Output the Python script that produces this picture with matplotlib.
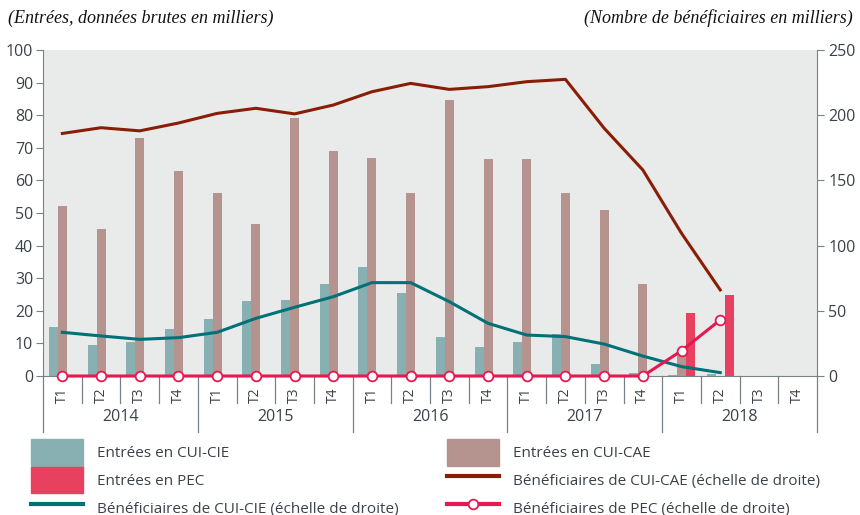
import matplotlib
matplotlib.use("Agg")
import matplotlib.pyplot as plt
import matplotlib.transforms as mtransforms
from matplotlib.patches import Patch
from matplotlib.lines import Line2D
import numpy as np

nan = np.nan
years = ["2014", "2015", "2016", "2017", "2018"]
quarters = ["T1", "T2", "T3", "T4"]

# entries (left axis, thousands)
entrees_cie = [15, 9.5, 10.5, 14.5, 17.5, 23, 23.3, 28.3,
               33.5, 25.5, 12.1, 8.8, 10.3, 12.9, 3.6, 0.8,
               0.3, 0.5, nan, nan]
entrees_cae = [52.3, 45, 73, 63, 56, 46.5, 79, 69,
               67, 56, 84.7, 66.6, 66.6, 56, 50.9, 28.3,
               7, nan, nan, nan]
entrees_pec = [nan] * 16 + [19.4, 24.8, nan, nan]

# beneficiaries (right axis, thousands)
benef_cae = [186, 190.4, 188, 194, 201.4, 205.3, 201, 207.8,
             218, 224.4, 219.8, 221.9, 225.7, 227.5, 190, 158,
             109.4, 66, nan, nan]
benef_cie = [33.5, 30.7, 28.1, 29.4, 33.5, 44.2, 52.7, 60.8,
             71.6, 71.6, 57, 40.4, 31.4, 30.2, 24.5, 15.3,
             7.2, 2.6, nan, nan]
benef_pec = [0] * 16 + [19.4, 43, nan, nan]

C_CIE, C_CAE, C_PEC = "#88b0b2", "#b5948f", "#e8405f"
L_CAE, L_CIE, L_PEC = "#8a1d06", "#007177", "#e8174f"
BG = "#e9ebea"
INK = "#3b4148"
AX = "#7a8088"

plt.rcParams["font.family"] = ["Open Sans", "DejaVu Sans"]

fig = plt.figure(figsize=(8.6, 5.15), dpi=100)
ax = fig.add_axes([43 / 860, 1 - 376 / 515, 774 / 860, 326 / 515])
ax.set_facecolor(BG)

n = len(entrees_cie)
x = np.arange(n) + 0.5
w = 0.232
ax.bar(x - w, entrees_cie, w, color=C_CIE, zorder=2)
ax.bar(x, entrees_cae, w, color=C_CAE, zorder=2)
ax.bar(x + w, entrees_pec, w, color=C_PEC, zorder=2)

ax.set_xlim(0, n)
ax.set_ylim(0, 100)
ax.set_yticks(range(0, 101, 10))
ax.set_xticks([])
for s in ["top", "right"]:
    ax.spines[s].set_visible(False)
for s in ["left", "bottom"]:
    ax.spines[s].set_color(AX)
ax.tick_params(axis="y", colors=AX, labelcolor=INK, labelsize=11.5,
               length=5, pad=2)

ax2 = ax.twinx()
ax2.set_ylim(0, 250)
ax2.set_yticks(range(0, 251, 50))
for s in ["top", "left", "bottom"]:
    ax2.spines[s].set_visible(False)
ax2.spines["right"].set_color(AX)
ax2.tick_params(axis="y", colors=AX, labelcolor=INK, labelsize=11.5,
                length=5, pad=3)
ax2.plot(x, benef_cae, color=L_CAE, lw=2.2, zorder=3)
ax2.plot(x, benef_cie, color=L_CIE, lw=2.2, zorder=3)
ax2.plot(x, benef_pec, color=L_PEC, lw=2.2, marker="o", ms=7,
         mfc="white", mec=L_PEC, mew=1.3, zorder=4, clip_on=False)

# quarter / year axis
tr = mtransforms.blended_transform_factory(ax.transData, ax.transAxes)
for i in range(n + 1):
    depth = -0.172 if i % 4 == 0 else -0.083
    ax.plot([i, i], [0, depth], color=AX, lw=0.9, transform=tr, clip_on=False)
for i in range(n):
    ax.text(i + 0.5, -0.058, quarters[i % 4], rotation=90, ha="center",
            va="center", transform=tr, color=INK, fontsize=10)
for j, yr in enumerate(years):
    ax.text(j * 4 + 2, -0.125, yr, ha="center", va="center", transform=tr,
            color=INK, fontsize=11.5)

fig.text(8 / 860, 1 - 18 / 515, "(Entrées, données brutes en milliers)",
         family="Liberation Serif", style="italic", fontsize=13,
         color="#111111", va="center", ha="left")
fig.text(853 / 860, 1 - 18 / 515, "(Nombre de bénéficiaires en milliers)",
         family="Liberation Serif", style="italic", fontsize=13,
         color="#111111", va="center", ha="right")

left_h = [Patch(color=C_CIE), Patch(color=C_PEC), Line2D([], [], color=L_CIE, lw=3)]
left_l = ["Entrées en CUI-CIE", "Entrées en PEC",
          "Bénéficiaires de CUI-CIE (échelle de droite)"]
right_h = [Patch(color=C_CAE), Line2D([], [], color=L_CAE, lw=3),
           Line2D([], [], color=L_PEC, lw=3, marker="o", ms=7, mfc="white",
                  mec=L_PEC, mew=1.3)]
right_l = ["Entrées en CUI-CAE", "Bénéficiaires de CUI-CAE (échelle de droite)",
           "Bénéficiaires de PEC (échelle de droite)"]
for h, l, xa in [(left_h, left_l, 31 / 860), (right_h, right_l, 447 / 860)]:
    lg = fig.legend(h, l, loc="upper left", bbox_to_anchor=(xa, 1 - 439 / 515),
                    frameon=False, fontsize=11, handlelength=3.4,
                    handleheight=2.3, labelspacing=0.08, handletextpad=0.9,
                    borderaxespad=0, borderpad=0)
    for t in lg.get_texts():
        t.set_color(INK)

fig.savefig("out.png", dpi=100)
